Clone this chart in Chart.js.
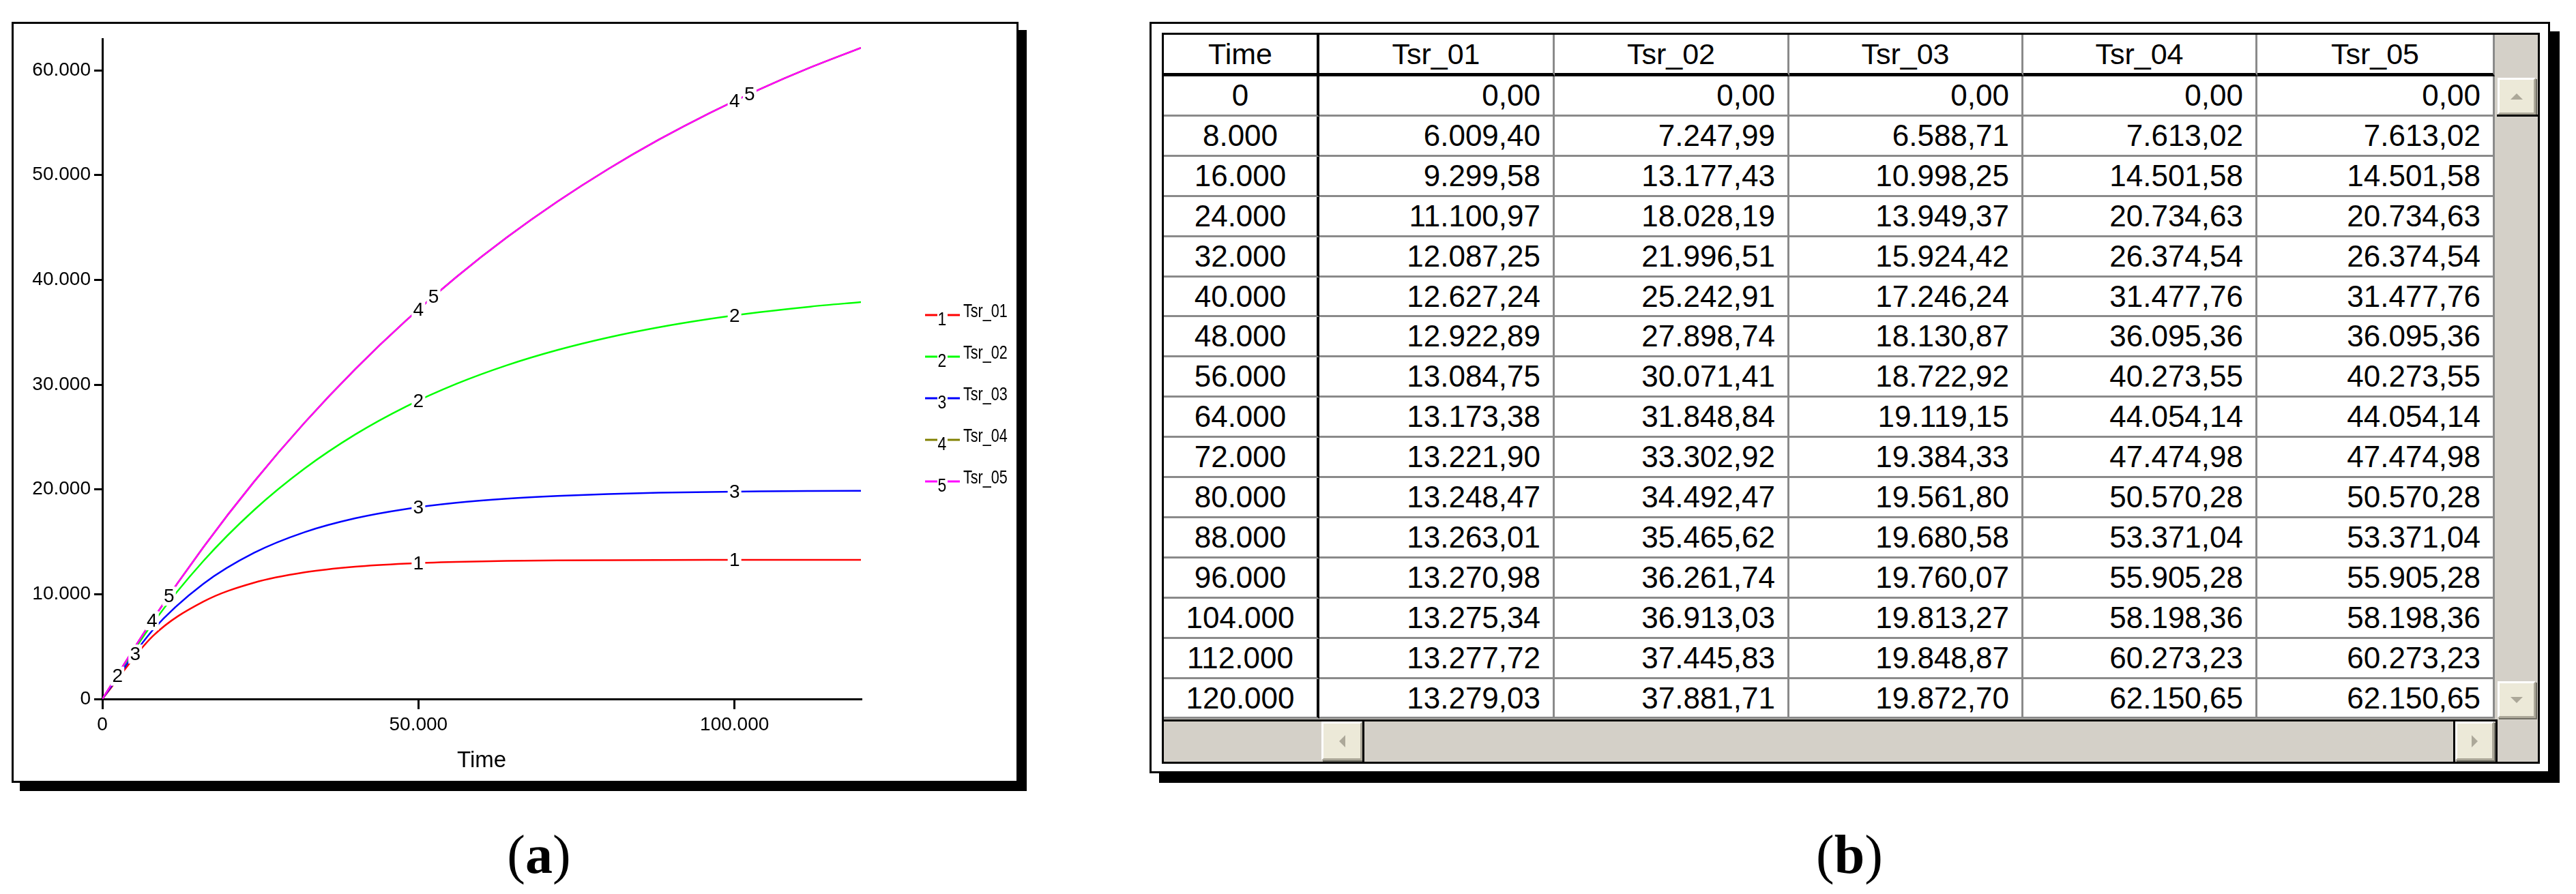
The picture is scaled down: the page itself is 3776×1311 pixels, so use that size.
<!DOCTYPE html>
<html>
<head>
<meta charset="utf-8">
<script src="https://cdn.jsdelivr.net/npm/chart.js@4.4.1/dist/chart.umd.min.js"></script>
<style>
  html, body { margin: 0; padding: 0; background: #fff; }
  body { width: 3776px; height: 1311px; position: relative; overflow: hidden; font-family: "Liberation Sans", Arial, sans-serif; }
  .abs { position: absolute; box-sizing: border-box; }
  .frame { background: #fff; border: 3px solid #000; }
  .shadow { background: #000; }
  .cell { position: absolute; box-sizing: border-box; background: #fff; display: flex; align-items: center;
          border-right: 3px solid #8a8a8a; border-bottom: 3px solid #8a8a8a; font-size: 44px; color: #000; white-space: nowrap; }
  .num { justify-content: flex-end; padding-right: 18px; }
  .ctr { justify-content: center; }
  .head { border-bottom: 5px solid #000; font-size: 43px; }
  .timecol { border-right: 4px solid #000; }
  .btn { position: absolute; box-sizing: border-box; background: #ece9d8;
         border-top: 3px solid #fff; border-left: 3px solid #fff; border-right: 3px solid #aca899; border-bottom: 3px solid #aca899;
         box-shadow: 2px 2px 0 #716f64; display: flex; align-items: center; justify-content: center; }
  .blk { position: absolute; background: #000; }
  .caption { position: absolute; width: 300px; text-align: center; font-family: "Liberation Serif", "Times New Roman", serif; font-size: 80px; line-height: 1; }
</style>
</head>
<body>
<!-- (a) frame -->
<div class="abs shadow" style="left:29px;top:44px;width:1476px;height:1116px;"></div>
<div class="abs frame" style="left:17px;top:32px;width:1476px;height:1116px;"></div>
<canvas id="chart-a" width="1600" height="1200" style="position:absolute;left:0;top:0;width:1600px;height:1200px;"></canvas>

<!-- (b) frame -->
<div class="abs shadow" style="left:1699px;top:46px;width:2053px;height:1102px;"></div>
<div class="abs frame" style="left:1685px;top:32px;width:2053px;height:1102px;"></div>
<div id="grid" class="abs" style="left:1703px;top:48px;width:2020px;height:1072px;border:3px solid #000;background:#d4d0c8;"></div>
<div id="cells"></div>

<div class="caption" style="left:640px;top:1213px;">(<b>a</b>)</div>
<div class="caption" style="left:2561px;top:1213px;">(<b>b</b>)</div>

<script>
// data
const times = [0, 8000, 16000, 24000, 32000, 40000, 48000, 56000, 64000, 72000, 80000, 88000, 96000, 104000, 112000, 120000];
const tsr01 = [0, 6009.40, 9299.58, 11100.97, 12087.25, 12627.24, 12922.89, 13084.75, 13173.38, 13221.90, 13248.47, 13263.01, 13270.98, 13275.34, 13277.72, 13279.03];
const tsr02 = [0, 7247.99, 13177.43, 18028.19, 21996.51, 25242.91, 27898.74, 30071.41, 31848.84, 33302.92, 34492.47, 35465.62, 36261.74, 36913.03, 37445.83, 37881.71];
const tsr03 = [0, 6588.71, 10998.25, 13949.37, 15924.42, 17246.24, 18130.87, 18722.92, 19119.15, 19384.33, 19561.80, 19680.58, 19760.07, 19813.27, 19848.87, 19872.70];
const tsr04 = [0, 7613.02, 14501.58, 20734.63, 26374.54, 31477.76, 36095.36, 40273.55, 44054.14, 47474.98, 50570.28, 53371.04, 55905.28, 58198.36, 60273.23, 62150.65];
const tsr05 = [0, 7613.02, 14501.58, 20734.63, 26374.54, 31477.76, 36095.36, 40273.55, 44054.14, 47474.98, 50570.28, 53371.04, 55905.28, 58198.36, 60273.23, 62150.65];
const seriesNames = ['Tsr_01', 'Tsr_02', 'Tsr_03', 'Tsr_04', 'Tsr_05'];
const seriesColors = ['#ff0000', '#00ff00', '#0000ff', '#808000', '#ff00ff'];
// times where the series number is written on the curve
const markTimes = [[50000, 100000], [2400, 50000, 100000], [5200, 50000, 100000], [7850, 50000, 100000], [10550, 52400, 102400]];
const xTicks = [0, 50000, 100000];
const yTicks = [0, 10000, 20000, 30000, 40000, 50000, 60000];

const allSeries = [tsr01, tsr02, tsr03, tsr04, tsr05];
const FONT = '"Liberation Sans", Arial, sans-serif';

// 1234567.8 -> "1.234.567,80"
function fmt(v, dec) {
    let parts = v.toFixed(dec).split('.');
    parts[0] = parts[0].replace(/\B(?=(\d{3})+(?!\d))/g, '.');
    return dec ? parts[0] + ',' + parts[1] : parts[0];
}

// y of a series at time t (only used to place the number marks)
function valueAt(s, t) {
    for (let i = 1; i < times.length; i++) {
        if (t <= times[i]) {
            let f = (t - times[i - 1]) / (times[i] - times[i - 1]);
            return s[i - 1] + f * (s[i] - s[i - 1]);
        }
    }
    return s[s.length - 1];
}

// narrow text, like the old bitmap font
function narrowText(ctx, str, x, y, sx) {
    ctx.save();
    ctx.translate(x, y);
    ctx.scale(sx, 1);
    ctx.fillText(str, 0, 0);
    ctx.restore();
}

// number marks on curves + legend
const marksPlugin = {
    id: 'marks',
    afterDatasetsDraw(chart) {
        const ctx = chart.ctx;
        const xs = chart.scales.x, ys = chart.scales.y;
        ctx.save();
        ctx.font = '28px ' + FONT;
        ctx.textAlign = 'center';
        ctx.textBaseline = 'middle';
        allSeries.forEach((s, k) => {
            markTimes[k].forEach(t => {
                let px = xs.getPixelForValue(t);
                let py = ys.getPixelForValue(valueAt(s, t));
                ctx.fillStyle = '#fff';
                ctx.fillRect(px - 10, py - 14, 20, 28);
                ctx.fillStyle = '#000';
                ctx.fillText(String(k + 1), px, py + 1);
            });
        });

        // legend
        seriesNames.forEach((name, k) => {
            let ly = 462 + k * 61;
            ctx.strokeStyle = seriesColors[k];
            ctx.lineWidth = 3;
            ctx.beginPath();
            ctx.moveTo(1356, ly); ctx.lineTo(1374, ly);
            ctx.moveTo(1389, ly); ctx.lineTo(1407, ly);
            ctx.stroke();
            ctx.fillStyle = '#000';
            ctx.font = '27px ' + FONT;
            ctx.textAlign = 'center';
            ctx.textBaseline = 'middle';
            narrowText(ctx, String(k + 1), 1381, ly + 8, 0.85);
            ctx.textAlign = 'left';
            ctx.textBaseline = 'alphabetic';
            narrowText(ctx, name, 1412, ly + 3, 0.8);
        });
        ctx.restore();
    }
};

let ctxA = document.getElementById('chart-a');
let configA = {
    type: 'line',
    data: {
        datasets: allSeries.map((s, k) => ({
            label: seriesNames[k],
            data: times.map((t, i) => ({ x: t, y: s[i] })),
            borderColor: seriesColors[k],
            borderWidth: 2.5,
            pointRadius: 0,
            fill: false,
            order: 4 - k,   // Tsr_05 drawn last, on top of Tsr_04
            cubicInterpolationMode: 'monotone'
        }))
    },
    options: {
        responsive: false,
        animation: false,
        events: [],
        layout: { padding: { top: 57, right: 338, bottom: 0, left: 0 } },
        plugins: { legend: { display: false }, tooltip: { enabled: false } },
        scales: {
            x: {
                type: 'linear',
                min: 0,
                max: 120000,
                afterFit: sc => { sc.height = 175; },
                afterBuildTicks: sc => { sc.ticks = xTicks.map(v => ({ value: v })); },
                border: { display: true, color: '#000', width: 3 },
                grid: { display: true, drawOnChartArea: false, drawTicks: true, tickLength: 15, color: '#000', lineWidth: 3 },
                ticks: { color: '#000', font: { family: FONT, size: 28 }, padding: 6, maxRotation: 0,
                         callback: v => fmt(v, 0) },
                title: { display: true, text: 'Time', color: '#000', font: { family: FONT, size: 33 }, padding: { top: 0, bottom: 64 } }
            },
            y: {
                min: 0,
                max: 63000,
                afterFit: sc => { sc.width = 150; },
                afterBuildTicks: sc => { sc.ticks = yTicks.map(v => ({ value: v })); },
                border: { display: true, color: '#000', width: 3 },
                grid: { display: true, drawOnChartArea: false, drawTicks: true, tickLength: 12, color: '#000', lineWidth: 3 },
                ticks: { color: '#000', font: { family: FONT, size: 28 }, padding: 5,
                         callback: v => fmt(v, 0) }
            }
        }
    },
    plugins: [marksPlugin]
};
let chartA = new Chart(ctxA, configA);

// table (b)
const colEdges = [1706, 1934, 2279, 2623, 2966, 3309, 3657];
const headTop = 51, headBottom = 112, rowH = 58.9;
let html = '';
function cell(l, t, w, h, cls, text) {
    html += '<div class="cell ' + cls + '" style="left:' + l + 'px;top:' + t + 'px;width:' + w + 'px;height:' + h + 'px;">' + text + '</div>';
}
let headers = ['Time'].concat(seriesNames);
headers.forEach((h, c) => {
    cell(colEdges[c], headTop, colEdges[c + 1] - colEdges[c], headBottom - headTop,
         'head ctr' + (c === 0 ? ' timecol' : ''), h);
});
times.forEach((t, r) => {
    let top = Math.round(headBottom + r * rowH);
    let h = Math.round(headBottom + (r + 1) * rowH) - top;
    cell(colEdges[0], top, colEdges[1] - colEdges[0], h, 'ctr timecol', fmt(t, 0));
    allSeries.forEach((s, k) => {
        cell(colEdges[k + 1], top, colEdges[k + 2] - colEdges[k + 1], h, 'num', fmt(s[r], 2));
    });
});

// scrollbars
function arrow(dir) {
    let b = 'border:9px solid transparent;';
    if (dir === 'up') b += 'border-top:0;border-bottom:9px solid #aca899;';
    if (dir === 'down') b += 'border-bottom:0;border-top:9px solid #aca899;';
    if (dir === 'left') b += 'border-left:0;border-right:9px solid #aca899;';
    if (dir === 'right') b += 'border-right:0;border-left:9px solid #aca899;';
    return '<div style="width:0;height:0;' + b + '"></div>';
}
function box(cls, l, t, w, h, inner) {
    html += '<div class="' + cls + '" style="left:' + l + 'px;top:' + t + 'px;width:' + w + 'px;height:' + h + 'px;">' + (inner || '') + '</div>';
}
box('btn', 3661, 114, 56, 54, arrow('up'));
box('blk', 3660, 168, 60, 3);
box('btn', 3661, 999, 56, 54, arrow('down'));
box('blk', 1706, 1055, 1954, 3);
box('btn', 1937, 1058, 60, 57, arrow('left'));
box('blk', 1997, 1058, 3, 59);
box('blk', 3596, 1058, 3, 59);
box('btn', 3599, 1058, 57, 57, arrow('right'));
box('blk', 3658, 1055, 3, 62);
document.getElementById('cells').innerHTML = html;
</script>
</body>
</html>
